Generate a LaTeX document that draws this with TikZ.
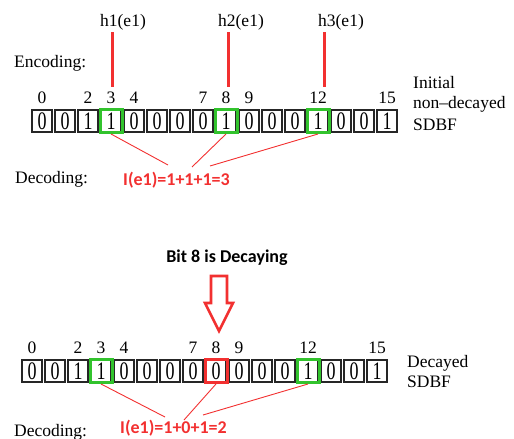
\documentclass[tikz,border=0pt]{standalone}
\usepackage{fontspec}
\usepackage{graphicx}
\setmainfont{Liberation Serif}
\newfontfamily\calfont{Carlito}
\definecolor{myred}{RGB}{242,48,48}
\definecolor{mygreen}{RGB}{50,195,45}
\newcommand\dg[1]{\scalebox{1}[1.4]{#1}}
\tikzset{
  cell/.style={draw=black!85, line width=1.2pt, minimum width=20pt, minimum height=22pt, inner sep=0pt, font=\fontsize{18}{20}\selectfont},
  hlg/.style={draw=mygreen, line width=3pt, minimum width=22pt, minimum height=23pt, inner sep=0pt},
  hlr/.style={draw=myred, line width=3pt, minimum width=22pt, minimum height=23pt, inner sep=0pt},
  lbl/.style={font=\fontsize{17.5}{20}\selectfont, inner sep=0pt},
  redtxt/.style={font=\calfont\bfseries\fontsize{18}{20}\selectfont, text=myred, inner sep=0pt},
  hline/.style={myred, line width=3pt},
  thin/.style={myred, line width=0.9pt},
}
\begin{document}
\begin{tikzpicture}[x=1pt,y=-1pt]
\useasboundingbox (0,0) rectangle (514,439);
% top row
\foreach \b [count=\i from 0] in {0,0,1,1,0,0,0,0,1,0,0,0,1,0,0,1}
  \node[cell] (t\i) at ({42+23*\i},121) {\dg{\b}};
\foreach \i in {0,2,3,4,7,8,9,12,15}
  \node[lbl, anchor=base] (ti\i) at ({42+23*\i},103) {\i};
\node[hlg] (g3) at (t3) {};
\node[hlg] (g8) at (t8) {};
\node[hlg] (g12) at (t12) {};
% hash labels
\node[lbl, anchor=base] (h1) at (123,27) {h1(e1)};
\node[lbl, anchor=base] (h2) at (241,27) {h2(e1)};
\node[lbl, anchor=base] (h3) at (341,27) {h3(e1)};
\coordinate (h1e) at (112,87);
\coordinate (h2e) at (228,87);
\coordinate (h3e) at (324,87);
\draw[hline] (112,32) -- (h1e);
\draw[hline] (228,32) -- (h2e);
\draw[hline] (324,32) -- (h3e);
\node[lbl, anchor=base west] (enc) at (14,67) {Encoding:};
\node[lbl, anchor=base west] (dec1) at (15,183) {Decoding:};
\node[lbl, anchor=base west] (in1) at (413,88) {Initial};
\node[lbl, anchor=base west] (in2) at (413,108) {non--decayed};
\node[lbl, anchor=base west] (in3) at (413,130) {SDBF};
\node[redtxt, anchor=base west] (r1) at (123,185) {I(e1)=1+1+1=3};
\coordinate (r1a) at (168,165);
\coordinate (r1b) at (192,167);
\coordinate (r1c) at (210,166);
\draw[thin] (g3.south) -- (r1a);
\draw[thin] (g8.south) -- (r1b);
\draw[thin] (g12.south) -- (r1c);
% decaying
\node[redtxt, text=black, anchor=base] (bit) at (227,262) {Bit 8 is Decaying};
\draw[myred, line width=2.6pt, fill=white, line join=miter]
  (211,276) -- (227,276) -- (227,303) -- (233,303) -- (219,331) -- (205,303) -- (211,303) -- cycle;
% bottom row
\foreach \b [count=\i from 0] in {0,0,1,1,0,0,0,0,0,0,0,0,1,0,0,1}
  \node[cell] (b\i) at ({32+23*\i},371) {\dg{\b}};
\foreach \i in {0,2,3,4,7,8,9,12,15}
  \node[lbl, anchor=base] (bi\i) at ({32+23*\i},353) {\i};
\node[hlg] (bg3) at (b3) {};
\node[hlr] (br8) at (b8) {};
\node[hlg] (bg12) at (b12) {};
\node[lbl, anchor=base west] (dc1) at (407,367) {Decayed};
\node[lbl, anchor=base west] (dc2) at (407,387) {SDBF};
\node[lbl, anchor=base west] (dec2) at (14,436) {Decoding:};
\node[redtxt, anchor=base west] (r2) at (120,433) {I(e1)=1+0+1=2};
\coordinate (r2a) at (165,417);
\coordinate (r2b) at (184,420);
\coordinate (r2c) at (203,415);
\draw[thin] (bg3.south) -- (r2a);
\draw[thin] (br8.south) -- (r2b);
\draw[thin] (bg12.south) -- (r2c);
\end{tikzpicture}
\end{document}
